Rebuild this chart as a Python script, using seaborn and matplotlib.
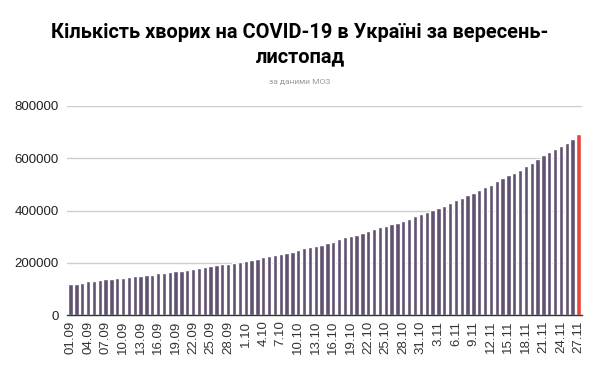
import matplotlib
matplotlib.use('Agg')
import matplotlib.pyplot as plt
import seaborn as sns
import pandas as pd

# кумулятивна кількість хворих (01.09 - 27.11)
cases = [
    119000, 119500, 124000, 129000, 132000, 133500, 137000, 137500, 140000, 143500,
    144000, 147500, 151000, 154000, 155000, 159000, 162500, 166500, 169000, 169500,
    173000, 177000, 180000, 184000, 187000, 191000, 195000, 195500, 197500, 202500,
    206500, 210000, 214000, 222000, 226000, 229500, 232000, 236000, 241000, 249000,
    255000, 260000, 263000, 268000, 274000, 280000, 289000, 298000, 302500, 306500,
    313000, 320500, 329500, 337000, 341000, 349000, 352500, 359000, 368000, 378000,
    386000, 393500, 401000, 409000, 416500, 427000, 438500, 448000, 459000, 466500,
    477000, 489500, 497000, 511500, 524000, 536000, 543500, 555000, 569000, 582000,
    597000, 611500, 623000, 636000, 647000, 657500, 673000, 692000,
]
dates = pd.date_range('2020-09-01', '2020-11-27').strftime('%d.%m').tolist()
tick_labels = [
    '01.09', '04.09', '07.09', '10.09', '13.09', '16.09', '19.09', '22.09', '25.09', '28.09',
    '1.10', '4.10', '7.10', '10.10', '13.10', '16.10', '19.10', '22.10', '25.10', '28.10', '31.10',
    '3.11', '6.11', '9.11', '12.11', '15.11', '18.11', '21.11', '24.11', '27.11',
]

bar_color = '#625271'
last_color = '#e8453c'

df = pd.DataFrame({'date': dates, 'cases': cases})
palette = {d: bar_color for d in dates}
palette[dates[-1]] = last_color

sns.set_style('white')
plt.rcParams['font.family'] = ['Liberation Sans', 'DejaVu Sans']

fig = plt.figure(figsize=(6, 3.71), dpi=100)
ax = fig.add_axes([67 / 600, 1 - 315 / 371, (582 - 67) / 600, (315 - 106) / 371])

sns.barplot(data=df, x='date', y='cases', hue='date', palette=palette,
            legend=False, width=0.74, saturation=1, ax=ax)

ax.set_ylim(0, 800000)
ax.set_xlim(-0.6, len(dates) - 0.4)
ax.set_yticks([0, 200000, 400000, 600000, 800000])
ax.set_yticklabels(['0', '200000', '400000', '600000', '800000'])
ax.set_xticks(range(0, len(dates), 3))
ax.set_xticklabels(tick_labels, rotation=90)
ax.tick_params(axis='y', length=0, labelsize=9.5, labelcolor='#222222', pad=6)
ax.tick_params(axis='x', length=0, labelsize=9.5, labelcolor='#333333', pad=4)
ax.set_xlabel('')
ax.set_ylabel('')

ax.grid(axis='y', color='#cccccc', linewidth=1)
ax.set_axisbelow(True)
sns.despine(ax=ax, left=True)
ax.spines['bottom'].set_color('#333333')
ax.spines['bottom'].set_linewidth(1)

# заголовок
fig.text(0.5, 1 - 33 / 371, 'Кількість хворих на COVID-19 в Україні за вересень-',
         ha='center', va='center', fontsize=14.4, fontweight='bold',
         family=['Roboto', 'DejaVu Sans'], color='#000000')
fig.text(0.5, 1 - 57 / 371, 'листопад',
         ha='center', va='center', fontsize=14.4, fontweight='bold',
         family=['Roboto', 'DejaVu Sans'], color='#000000')
fig.text(0.5, 1 - 82 / 371, 'за даними МОЗ',
         ha='center', va='center', fontsize=6, color='#999999',
         family=['Roboto', 'DejaVu Sans'])

fig.savefig('out.png', dpi=100)
plt.close(fig)
